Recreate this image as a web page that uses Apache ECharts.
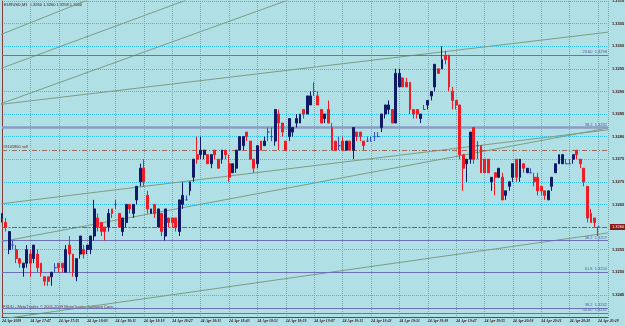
<!DOCTYPE html>
<html>
<head>
<meta charset="utf-8">
<title>EURUSD,M1</title>
<style>
html, body { margin: 0; padding: 0; background: #b0dfe5; }
#chart { width: 625px; height: 326px; }
</style>
</head>
<body>
<div id="chart"></div>
<script src="https://cdn.jsdelivr.net/npm/echarts@6/dist/echarts.min.js"></script>
<script>
// one bar per minute, a label every 8 bars
var tickLabels = ['24 Apr 2009', '24 Apr 17:47', '24 Apr 17:55', '24 Apr 18:03', '24 Apr 18:11', '24 Apr 18:19',
    '24 Apr 18:27', '24 Apr 18:35', '24 Apr 18:43', '24 Apr 18:51', '24 Apr 18:59', '24 Apr 19:07',
    '24 Apr 19:15', '24 Apr 19:23', '24 Apr 19:31', '24 Apr 19:39', '24 Apr 19:47', '24 Apr 19:55',
    '24 Apr 20:03', '24 Apr 20:11', '24 Apr 20:20', '24 Apr 20:29'];

// [open, close, low, high]
var candles = [
    [1.3262,1.3263,1.3261,1.3263],[1.3261,1.3260,1.3259,1.3262],[1.3255,1.3259,1.3254,1.3259],[1.3256,1.3256,1.3255,1.3257],
    [1.3255,1.3253,1.3252,1.3256],[1.3253,1.3252,1.3251,1.3253],[1.3251,1.3252,1.3249,1.3252],[1.3252,1.3255,1.3251,1.3256],
    [1.3254,1.3252,1.3249,1.3255],[1.3253,1.3256,1.3252,1.3256],[1.3254,1.3251,1.3250,1.3255],[1.3252,1.3250,1.3249,1.3252],
    [1.3249,1.3248,1.3247,1.3249],[1.3249,1.3248,1.3247,1.3249],[1.3249,1.3250,1.3247,1.3250],[1.3251,1.3251,1.3250,1.3252],
    [1.3252,1.3251,1.3250,1.3252],[1.3252,1.3251,1.3250,1.3252],[1.3250,1.3255,1.3250,1.3256],[1.3256,1.3254,1.3250,1.3258],
    [1.3254,1.3250,1.3249,1.3254],[1.3249,1.3253,1.3248,1.3253],[1.3254,1.3258,1.3253,1.3258],[1.3255,1.3254,1.3253,1.3256],
    [1.3255,1.3256,1.3254,1.3256],[1.3255,1.3258,1.3254,1.3258],[1.3258,1.3264,1.3257,1.3266],[1.3262,1.3260,1.3259,1.3263],
    [1.3261,1.3259,1.3258,1.3261],[1.3260,1.3259,1.3257,1.3260],[1.3260,1.3263,1.3259,1.3264],[1.3264,1.3263,1.3262,1.3264],
    [1.3265,1.3265,1.3264,1.3266],[1.3263,1.3260,1.3260,1.3263],[1.3259,1.3262,1.3258,1.3262],[1.3261,1.3265,1.3260,1.3265],
    [1.3265,1.3264,1.3263,1.3265],[1.3263,1.3265,1.3262,1.3265],[1.3266,1.3269,1.3265,1.3269],[1.3270,1.3273,1.3269,1.3274],
    [1.3273,1.3270,1.3269,1.3275],[1.3267,1.3264,1.3263,1.3268],[1.3263,1.3264,1.3263,1.3264],[1.3265,1.3263,1.3262,1.3265],
    [1.3260,1.3264,1.3260,1.3264],[1.3263,1.3259,1.3258,1.3263],[1.3258,1.3264,1.3257,1.3264],[1.3262,1.3261,1.3260,1.3262],
    [1.3262,1.3261,1.3260,1.3262],[1.3262,1.3260,1.3259,1.3262],[1.3259,1.3266,1.3258,1.3266],[1.3265,1.3267,1.3264,1.3270],
    [1.3266,1.3266,1.3266,1.3267],[1.3268,1.3270,1.3267,1.3270],[1.3271,1.3275,1.3270,1.3275],[1.3276,1.3275,1.3274,1.3280],
    [1.3276,1.3277,1.3275,1.3280],[1.3276,1.3277,1.3275,1.3277],[1.3276,1.3274,1.3274,1.3276],[1.3274,1.3276,1.3273,1.3276],
    [1.3277,1.3276,1.3275,1.3277],[1.3275,1.3273,1.3273,1.3275],[1.3275,1.3277,1.3274,1.3277],[1.3277,1.3276,1.3275,1.3277],
    [1.3274,1.3271,1.3270,1.3276],[1.3272,1.3274,1.3272,1.3274],[1.3273,1.3277,1.3272,1.3277],[1.3277,1.3280,1.3277,1.3280],
    [1.3278,1.3280,1.3277,1.3280],[1.3281,1.3280,1.3279,1.3281],[1.3279,1.3275,1.3275,1.3279],[1.3275,1.3273,1.3272,1.3275],
    [1.3274,1.3278,1.3273,1.3278],[1.3279,1.3277,1.3277,1.3279],[1.3278,1.3279,1.3278,1.3280],[1.3281,1.3281,1.3279,1.3282],
    [1.3280,1.3280,1.3279,1.3282],[1.3279,1.3286,1.3278,1.3286],[1.3285,1.3283,1.3277,1.3286],[1.3283,1.3281,1.3280,1.3283],
    [1.3279,1.3277,1.3277,1.3279],[1.3280,1.3284,1.3279,1.3284],[1.3281,1.3282,1.3280,1.3282],[1.3283,1.3284,1.3282,1.3285],
    [1.3283,1.3285,1.3283,1.3285],[1.3286,1.3285,1.3284,1.3286],[1.3285,1.3289,1.3285,1.3289],[1.3287,1.3289,1.3287,1.3290],
    [1.3290,1.3290,1.3289,1.3292],[1.3289,1.3287,1.3287,1.3290],[1.3286,1.3283,1.3283,1.3286],[1.3284,1.3285,1.3283,1.3285],
    [1.3286,1.3283,1.3283,1.3288],[1.3282,1.3277,1.3277,1.3283],[1.3279,1.3277,1.3277,1.3279],[1.3278,1.3278,1.3277,1.3280],
    [1.3279,1.3277,1.3277,1.3280],[1.3277,1.3279,1.3277,1.3279],[1.3279,1.3277,1.3277,1.3279],[1.3277,1.3282,1.3275,1.3282],
    [1.3281,1.3280,1.3279,1.3281],[1.3281,1.3280,1.3279,1.3281],[1.3279,1.3278,1.3277,1.3279],[1.3279,1.3279,1.3279,1.3280],
    [1.3279,1.3279,1.3279,1.3280],[1.3280,1.3280,1.3279,1.3281],[1.3280,1.3280,1.3280,1.3281],[1.3282,1.3285,1.3281,1.3285],
    [1.3285,1.3287,1.3284,1.3287],[1.3286,1.3287,1.3285,1.3288],[1.3286,1.3283,1.3283,1.3286],[1.3283,1.3294,1.3283,1.3295],
    [1.3291,1.3294,1.3291,1.3295],[1.3293,1.3291,1.3291,1.3293],[1.3292,1.3291,1.3291,1.3293],[1.3292,1.3286,1.3285,1.3292],
    [1.3286,1.3285,1.3284,1.3286],[1.3286,1.3285,1.3284,1.3286],[1.3284,1.3285,1.3283,1.3285],[1.3286,1.3286,1.3286,1.3287],
    [1.3287,1.3288,1.3286,1.3288],[1.3289,1.3290,1.3288,1.3290],[1.3291,1.3296,1.3290,1.3296],[1.3295,1.3294,1.3294,1.3295],
    [1.3295,1.3297,1.3295,1.3300],[1.3298,1.3297,1.3296,1.3299],[1.3298,1.3291,1.3290,1.3298],[1.3290,1.3288,1.3286,1.3291],
    [1.3288,1.3287,1.3286,1.3288],[1.3287,1.3276,1.3275,1.3287],[1.3276,1.3273,1.3268,1.3276],[1.3274,1.3275,1.3270,1.3275],
    [1.3275,1.3281,1.3274,1.3281],[1.3282,1.3275,1.3274,1.3282],[1.3278,1.3278,1.3275,1.3279],[1.3278,1.3272,1.3272,1.3278],
    [1.3275,1.3272,1.3272,1.3275],[1.3275,1.3272,1.3272,1.3275],[1.3270,1.3271,1.3268,1.3271],[1.3272,1.3271,1.3267,1.3272],
    [1.3271,1.3273,1.3271,1.3273],[1.3271,1.3266,1.3266,1.3272],[1.3267,1.3268,1.3266,1.3268],[1.3269,1.3270,1.3268,1.3270],
    [1.3271,1.3274,1.3270,1.3274],[1.3275,1.3271,1.3270,1.3275],[1.3271,1.3275,1.3270,1.3275],[1.3274,1.3273,1.3272,1.3274],
    [1.3272,1.3273,1.3272,1.3273],[1.3272,1.3272,1.3272,1.3273],[1.3271,1.3270,1.3269,1.3272],[1.3271,1.3268,1.3267,1.3272],
    [1.3269,1.3268,1.3267,1.3269],[1.3268,1.3267,1.3266,1.3268],[1.3266,1.3268,1.3266,1.3268],[1.3269,1.3271,1.3268,1.3271],
    [1.3272,1.3274,1.3272,1.3274],[1.3274,1.3276,1.3274,1.3276],[1.3274,1.3276,1.3274,1.3276],[1.3274,1.3274,1.3274,1.3275],
    [1.3274,1.3274,1.3274,1.3275],[1.3275,1.3276,1.3274,1.3276],[1.3277,1.3276,1.3275,1.3277],[1.3275,1.3274,1.3273,1.3275],
    [1.3273,1.3270,1.3269,1.3273],[1.3269,1.3262,1.3261,1.3269],[1.3263,1.3261,1.3261,1.3264],[1.3262,1.3261,1.3260,1.3262],
    [1.3260,1.3260,1.3258,1.3260]
];

// fibonacci levels: [ratio, price]
var fiboLevels = [['23.60', 1.3298], ['38.2', 1.3282], ['38.2', 1.3257], ['61.8', 1.3250], ['38.2', 1.3242], ['50.00', 1.3241]];

// drawn trend lines, each [barIndex, price] -> [barIndex, price]
var trendLines = [
    [[-0.6, 1.33025], [24, 1.33102]],
    [[-0.6, 1.32950], [51.9, 1.33102]],
    [[-0.6, 1.32872], [80.6, 1.33102]],
    [[-0.6, 1.32871], [170.8, 1.33031]],
    [[-0.6, 1.32651], [170.8, 1.32815]],
    [[-0.6, 1.32567], [170.8, 1.32819]],
    [[-0.6, 1.32396], [170.8, 1.32587]]
];

var orderPrice = 1.3277;
var orderText = '#8105860 sell';

var last = candles[candles.length - 1];
var bid = last[1];

var dom = document.getElementById('chart');
var myChart = echarts.init(dom, null, { renderer: 'canvas' });

var txtColor = '#3a1212';
var gridColor = '#2fc0ee';
var fiboColor = '#6c70b4';
var trendColor = '#7c9c84';

var marks = [];
fiboLevels.forEach(function (f) {
    var thick = f[0] === '38.2' && f[1] > 1.3280;
    marks.push({
        yAxis: f[1],
        lineStyle: { color: thick ? '#8c9cc4' : fiboColor, width: thick ? 2.5 : 1, type: 'solid' },
        label: { show: true, position: 'insideEndTop', distance: 1, formatter: f[0] + '  ' + f[1].toFixed(4),
            color: '#5a5aa0', fontSize: 4, fontFamily: 'Liberation Sans' }
    });
});
marks.push({
    yAxis: orderPrice,
    lineStyle: { color: '#a06a5a', width: 1, type: [5, 2, 1, 2] },
    label: { show: true, position: 'insideStartTop', distance: 1, formatter: orderText,
        color: '#7a2a2a', fontSize: 4, fontFamily: 'Liberation Sans' }
});
marks.push({
    yAxis: bid,
    lineStyle: { color: '#5c6c74', width: 1, type: [5, 2, 1, 2] },
    label: { show: true, position: 'end', distance: 2, formatter: bid.toFixed(4), color: '#ffffff',
        backgroundColor: '#8a1a1a', padding: [1, 2], fontSize: 4, fontFamily: 'Liberation Sans' }
});

var series = [{
    type: 'candlestick',
    data: candles.map(function (c, i) { return [i].concat(c); }),
    encode: { x: 0, y: [1, 2, 3, 4] },
    barWidth: 2.4,
    itemStyle: {
        color: '#101a66', color0: '#ee1c24',
        borderColor: '#101a66', borderColor0: '#ee1c24', borderColorDoji: '#3450c8',
        borderWidth: 1
    },
    z: 5
}];
trendLines.forEach(function (t, k) {
    var s = {
        type: 'line', data: t, symbol: 'none', silent: true, z: 3,
        lineStyle: { color: trendColor, width: 1 }
    };
    // horizontal levels ride on the first line series
    if (k === 0) {
        s.markLine = { silent: true, symbol: 'none', animation: false, precision: 5, data: marks };
    }
    series.push(s);
});

var option = {
    backgroundColor: '#b0dfe5',
    animation: false,
    grid: { left: 2, right: 17, top: 1, bottom: 8.6, outerBoundsMode: 'none', containLabel: false },
    xAxis: {
        type: 'value', min: 0, max: 170.8, interval: 8,
        axisLine: { show: true, lineStyle: { color: '#7a3a3a' } },
        axisTick: { show: false },
        splitLine: { show: true, lineStyle: { color: gridColor, type: 'dotted', width: 1 } },
        axisLabel: {
            show: true, align: 'left', margin: 2, fontSize: 3.8, fontStyle: 'italic', fontWeight: 'bold',
            color: txtColor, fontFamily: 'Liberation Serif', showMaxLabel: false,
            formatter: function (v) { return v % 8 === 0 ? (tickLabels[v / 8] || '') : ''; }
        }
    },
    yAxis: {
        type: 'value', position: 'right', min: 1.3240, max: 1.3310, interval: 0.0005,
        axisLine: { show: true, lineStyle: { color: '#8a3a3a' } },
        axisTick: { show: false },
        splitLine: { show: true, lineStyle: { color: gridColor, type: 'dotted', width: 1 } },
        axisLabel: {
            show: true, margin: 4, fontSize: 4, fontWeight: 'bold', color: txtColor, fontFamily: 'Liberation Sans',
            showMinLabel: false,
            formatter: function (v) { return Math.abs(v - bid) < 0.00005 ? '' : v.toFixed(4); }
        }
    },
    graphic: [
        { type: 'text', left: 4, top: 3, style: { text: 'EURUSD,M1  ' + [last[0], last[3], last[2], last[1]].map(function (v) { return v.toFixed(4); }).join(' '),
            fill: txtColor, fontSize: 4, fontFamily: 'Liberation Sans' } },
        { type: 'text', left: 3, top: 305, style: { text: 'FXDD - MetaTrader, \u00a9 2001-2009 MetaQuotes Software Corp.',
            fill: '#7a2a2a', fontSize: 4, fontFamily: 'Liberation Sans' } }
    ],
    series: series
};
myChart.setOption(option);
</script>
</body>
</html>
